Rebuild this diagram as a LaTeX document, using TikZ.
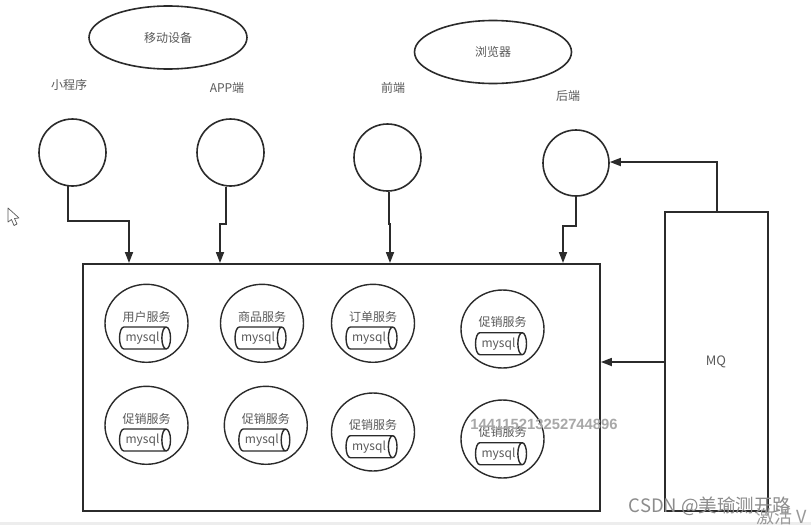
\documentclass[tikz,border=0pt]{standalone}
\usepackage{fontspec}
\setmainfont{Noto Sans CJK SC}
\newfontfamily\wmfont{Liberation Sans}
\usetikzlibrary{shapes.geometric,arrows.meta,calc}
\definecolor{inkc}{HTML}{2B2B2B}
\definecolor{textc}{HTML}{5A5A5A}
\definecolor{markc}{HTML}{A8A8A8}
\tikzset{
  oval/.style={ellipse,draw=inkc,line width=1.6pt,inner sep=0pt,fill=white},
  port/.style={oval,minimum width=#1,minimum height=#1},
  svcoval/.style={ellipse,draw=inkc,line width=1.4pt,inner sep=0pt,minimum width=83pt,minimum height=78pt},
  dbcyl/.style={cylinder,draw=inkc,line width=1.4pt,shape border rotate=0,shape aspect=0.7,minimum height=51pt,minimum width=22pt,inner sep=0pt,text=textc,font=\fontsize{12}{12}\selectfont},
  frame/.style={draw=inkc,line width=1.7pt,inner sep=0pt,anchor=north west},
  txt/.style={text=textc,font=\fontsize{12}{13}\selectfont,inner sep=0pt},
  conn/.style={draw=inkc,line width=1.7pt,-{Triangle[length=11pt,width=8pt]}},
  wm/.style={inner sep=0pt,text=markc}
}
\newcommand{\svcitem}[4]{%
  \node[svcoval] (#1) at (#2,#3) {};
  \node[txt] (#1t) at ($(#1.center)+(0,-6.6)$) {#4};
  \node[dbcyl] (#1d) at ($(#1.center)+(-4,14.7)$) {mysql};
}
\begin{document}
\begin{tikzpicture}[x=1pt,y=-1pt]
\useasboundingbox (0,0) rectangle (811,525);
\fill[white] (0,0) rectangle (811,525);
\fill[black!7] (0,522) rectangle (811,525);

\node[oval,minimum width=158pt,minimum height=63pt] (mobile) at (168,37.5) {};
\node[txt] (mobilet) at (168,37.5) {移动设备};
\node[oval,minimum width=157pt,minimum height=63pt] (browser) at (493,52) {};
\node[txt] (browsert) at (493,52) {浏览器};

\node[txt] (l1) at (69,85) {小程序};
\node[txt] (l2) at (227,88) {APP端};
\node[txt] (l3) at (393,88) {前端};
\node[txt] (l4) at (568,96) {后端};

\node[port=67pt] (c1) at (72.5,152.5) {};
\node[port=67pt] (c2) at (230.5,152.5) {};
\node[port=67pt] (c3) at (387.5,157.5) {};
\node[port=66pt] (c4) at (576,163) {};

\node[frame,minimum width=517pt,minimum height=247pt] (box) at (82.2,263.2) {};
\node[frame,minimum width=103pt,minimum height=299pt] (mq) at (664.2,211.2) {};
\node[txt,font=\fontsize{13}{14}\selectfont] (mqt) at (716,362) {MQ};

\coordinate (e1) at (129,263);
\coordinate (e2) at (220,263);
\coordinate (e3) at (390,263);
\coordinate (e4) at (563,263);
\draw[conn] (c1.262) -- (c1.262 |- 0,221) -- (e1 |- 0,221) -- (e1);
\draw[conn] (c2.263) -- (c2.263 |- 0,224) -- (e2 |- 0,224) -- (e2);
\draw[conn] (c3.272) -- (c3.272 |- 0,224) -- (e3 |- 0,224) -- (e3);
\draw[conn] (c4.270) -- (c4.270 |- 0,226) -- (e4 |- 0,226) -- (e4);
\draw[conn] (mq.north -| 717,0) -- (717,162) -- (c4.east |- 0,162);
\draw[conn] (mq.west |- 0,362) -- (box.east |- 0,362);

\svcitem{s1}{146.5}{323.3}{用户服务}
\svcitem{s2}{262}{323.3}{商品服务}
\svcitem{s3}{373}{323.3}{订单服务}
\svcitem{s4}{502.5}{329}{促销服务}
\svcitem{s5}{146.5}{425.3}{促销服务}
\svcitem{s6}{265.8}{425.3}{促销服务}
\svcitem{s7}{373}{432}{促销服务}
\svcitem{s8}{502.5}{439}{促销服务}

\node[wm,font=\wmfont\bfseries\fontsize{14.8}{16}\selectfont] (wm1) at (544,424) {144115213252744896};
\node[wm,text=black!45,font=\fontsize{18.5}{20}\selectfont] (wm2) at (710,506) {CSDN @美瑜测开路};
\begin{scope}
\clip (0,0) rectangle (811,525);
\node[wm,anchor=west,text=black!40,font=\fontsize{18}{19}\selectfont] (wm3) at (756,517) {激活 V};
\end{scope}

\draw[draw=black!65,line width=.7pt,fill=white,line join=round]
  (8,208) -- (8,222) -- (11.5,219.5) -- (14,225.5) -- (17,224) -- (14.5,218.5) -- (19,218) -- cycle;
\end{tikzpicture}
\end{document}
